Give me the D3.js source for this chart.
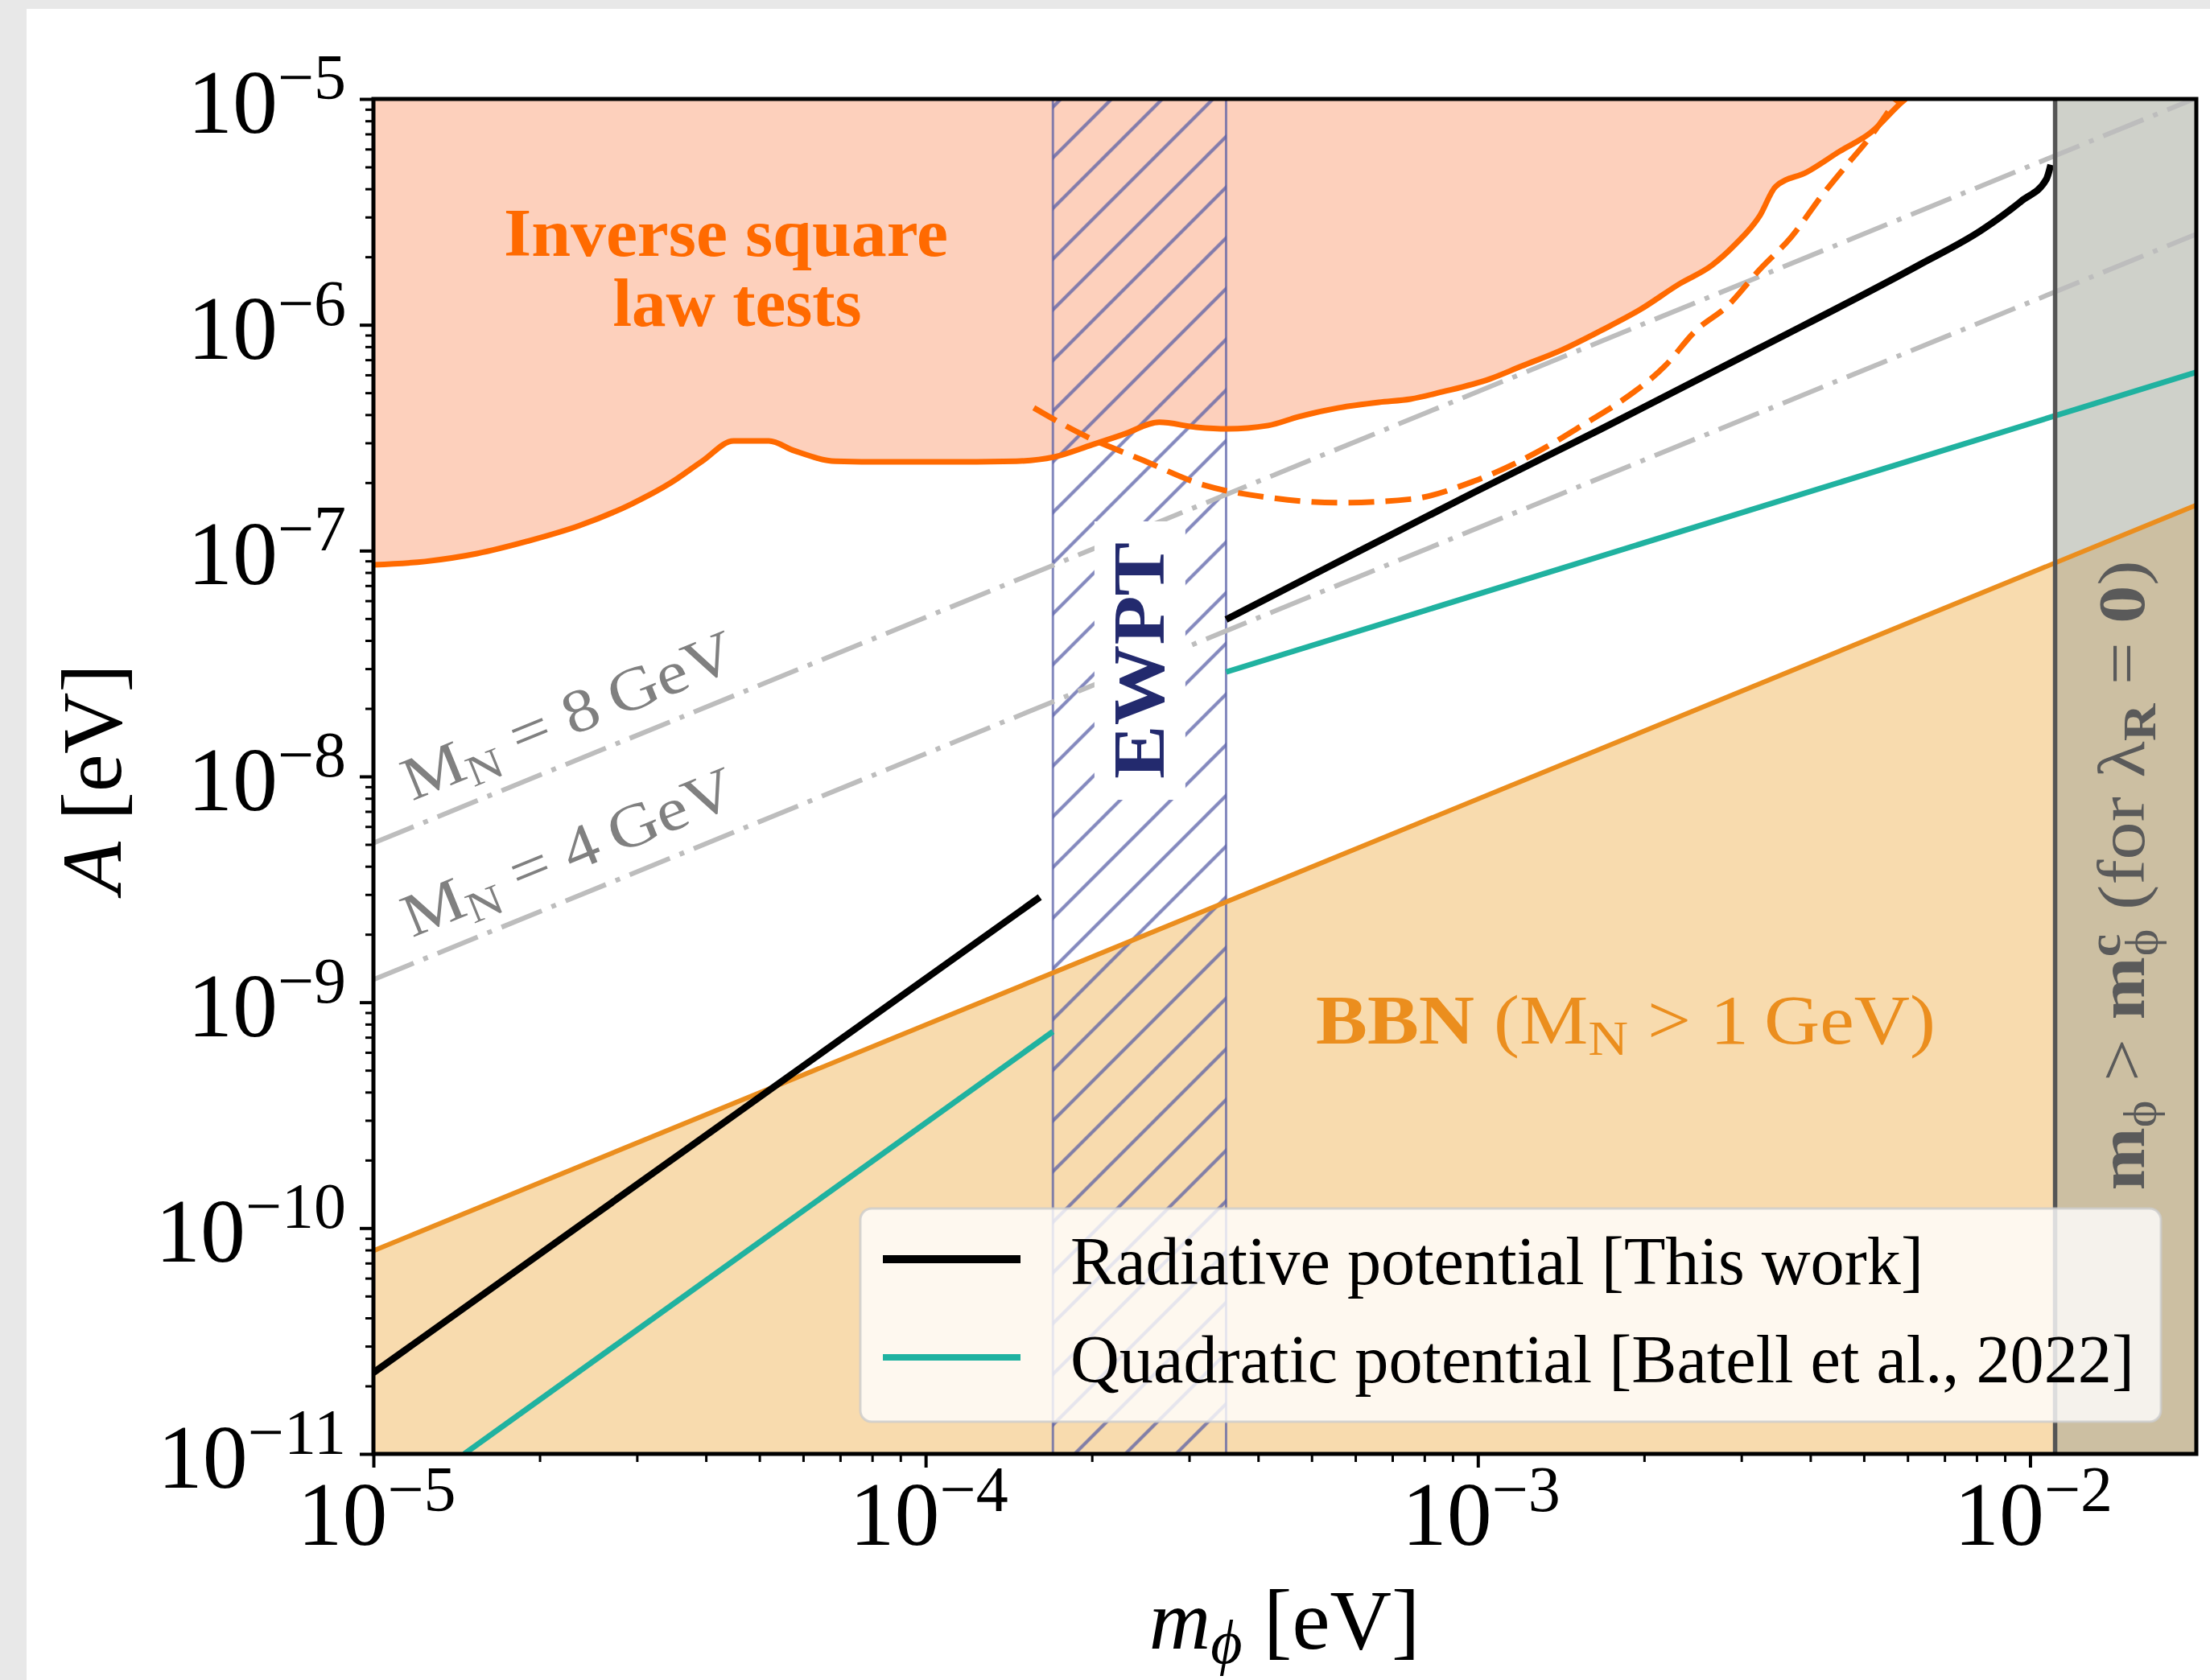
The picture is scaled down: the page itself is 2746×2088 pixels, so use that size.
<!DOCTYPE html>
<html><head><meta charset="utf-8">
<script src="https://cdn.jsdelivr.net/npm/d3@7"></script>
<style>body{margin:0;background:#e8e8e8}svg{display:block}text{font-family:"Liberation Serif","Times New Roman",serif}</style>
</head><body><svg id="c" width="2746" height="2088"></svg>
<script>
// ---------------- data (m_phi [eV], A [eV]) ----------------
const xMajor = [1e-5, 1e-4, 1e-3, 1e-2];
const xTickExp = ["\u22125", "\u22124", "\u22123", "\u22122"];
const yMajor = [1e-11, 1e-10, 1e-9, 1e-8, 1e-7, 1e-6, 1e-5];
const yTickExp = ["\u221211", "\u221210", "\u22129", "\u22128", "\u22127", "\u22126", "\u22125"];

const islBoundary = [
  [1.00e-5, 8.65e-8], [1.24e-5, 8.95e-8], [1.54e-5, 9.70e-8], [1.90e-5, 1.10e-7],
  [2.36e-5, 1.29e-7], [2.92e-5, 1.60e-7], [3.46e-5, 2.00e-7], [3.94e-5, 2.49e-7],
  [4.49e-5, 3.06e-7], [5.20e-5, 3.06e-7], [5.78e-5, 2.77e-7], [6.87e-5, 2.49e-7],
  [8.51e-5, 2.47e-7], [1.05e-4, 2.47e-7], [1.46e-4, 2.49e-7], [1.71e-4, 2.60e-7],
  [2.00e-4, 2.94e-7], [2.28e-4, 3.27e-7], [2.65e-4, 3.70e-7], [3.09e-4, 3.52e-7],
  [3.52e-4, 3.46e-7], [4.17e-4, 3.58e-7], [4.74e-4, 3.92e-7], [5.60e-4, 4.29e-7],
  [6.62e-4, 4.54e-7], [7.55e-4, 4.69e-7], [8.63e-4, 5.05e-7], [1.05e-3, 5.75e-7],
  [1.20e-3, 6.56e-7], [1.42e-3, 7.74e-7], [1.67e-3, 9.42e-7], [1.97e-3, 1.17e-6],
  [2.32e-3, 1.52e-6], [2.65e-3, 1.83e-6], [2.92e-3, 2.26e-6], [3.24e-3, 3.04e-6],
  [3.46e-3, 4.09e-6], [3.94e-3, 4.74e-6], [4.52e-3, 5.86e-6], [5.14e-3, 7.08e-6],
  [5.86e-3, 9.68e-6], [5.95e-3, 1.00e-5]
];
const islDashed = [
  [1.57e-4, 4.29e-7], [1.95e-4, 3.21e-7], [2.45e-4, 2.54e-7], [3.19e-4, 1.95e-7],
  [4.17e-4, 1.72e-7], [5.60e-4, 1.63e-7], [7.55e-4, 1.69e-7], [9.84e-4, 2.03e-7],
  [1.28e-3, 2.73e-7], [1.56e-3, 3.64e-7], [1.84e-3, 4.69e-7], [2.18e-3, 6.56e-7],
  [2.48e-3, 9.42e-7], [2.84e-3, 1.22e-6], [3.24e-3, 1.76e-6], [3.69e-3, 2.44e-6],
  [4.22e-3, 3.80e-6], [4.66e-3, 5.11e-6], [5.14e-3, 6.81e-6], [5.60e-3, 9.14e-6],
  [5.75e-3, 1.00e-5]
];
const radiativeLow = [[1.00e-5, 2.29e-11], [1.61e-4, 2.92e-9]];
const radiativeHigh = [
  [3.50e-4, 4.95e-8], [5.33e-4, 8.40e-8], [9.84e-4, 1.81e-7], [1.67e-3, 3.45e-7],
  [3.24e-3, 7.90e-7], [6.27e-3, 1.83e-6], [8.18e-3, 2.63e-6], [9.64e-3, 3.53e-6],
  [1.07e-2, 4.41e-6], [1.09e-2, 5.11e-6]
];
const quadraticLow = [[1.46e-5, 1.00e-11], [1.70e-4, 7.41e-10]];
const quadraticHigh = [[3.50e-4, 2.90e-8], [2.00e-2, 6.17e-7]];
const bbnBound = [[1.00e-5, 7.94e-11], [2.00e-2, 1.59e-7]];
const mn8Line = [[1.00e-5, 5.07e-9], [2.00e-2, 1.01e-5]];
const mn4Line = [[1.00e-5, 1.26e-9], [2.00e-2, 2.52e-6]];
const ewptBand = [1.70e-4, 3.50e-4];
const mcStart = 1.11e-2;

const legendLabels = ["Radiative potential [This work]", "Quadratic potential [Batell et al., 2022]"];
const legendColors = ["#000000", "#20b2a0"];

// ---------------- drawing ----------------
const W = 2746, H = 2088;
const X0 = 464, X1 = 2729, Y0 = 123, Y1 = 1807;
const svg = d3.select("#c");
svg.append("rect").attr("width", W).attr("height", H).attr("fill", "#e8e8e8");
svg.append("rect").attr("x", 33).attr("y", 11).attr("width", W - 33).attr("height", H - 11).attr("fill", "#fff");

const x = d3.scaleLog().domain([1e-5, 2e-2]).range([X0, X1]);
const y = d3.scaleLog().domain([1e-11, 1e-5]).range([Y1, Y0]);

const defs = svg.append("defs");
defs.append("clipPath").attr("id", "plot").append("rect")
  .attr("x", X0).attr("y", Y0).attr("width", X1 - X0).attr("height", Y1 - Y0);
const hs = 63;
const pat = defs.append("pattern").attr("id", "hatch").attr("patternUnits", "userSpaceOnUse")
  .attr("width", hs).attr("height", hs).attr("x", x(ewptBand[0])).attr("y", Y0 + 10);
pat.append("path")
  .attr("d", `M0,${hs} L${hs},0 M${-hs/2},${hs/2} L${hs/2},${-hs/2} M${hs/2},${hs*1.5} L${hs*1.5},${hs/2}`)
  .attr("stroke", "rgb(85,92,165)").attr("stroke-opacity", 0.72).attr("stroke-width", 4.2);

const line = d3.line().x(d => x(d[0])).y(d => y(d[1]));
const smooth = d3.line().x(d => x(d[0])).y(d => y(d[1])).curve(d3.curveMonotoneX);

const g = svg.append("g").attr("clip-path", "url(#plot)");
// fills
g.append("path").datum(islBoundary)
  .attr("d", d3.area().x(d => x(d[0])).y0(y(1e-5)).y1(d => y(d[1])).curve(d3.curveMonotoneX))
  .attr("fill", "#fdd0bc");
g.append("path").datum(bbnBound)
  .attr("d", d3.area().x(d => x(d[0])).y0(y(1e-11)).y1(d => y(d[1])))
  .attr("fill", "#f8dbae");
g.append("rect").attr("x", x(mcStart)).attr("y", Y0).attr("width", X1 - x(mcStart)).attr("height", Y1 - Y0)
  .attr("fill", "rgb(160,163,150)").attr("fill-opacity", 0.5);
// EWPT hatch band
g.append("rect").attr("x", x(ewptBand[0])).attr("y", Y0)
  .attr("width", x(ewptBand[1]) - x(ewptBand[0])).attr("height", Y1 - Y0).attr("fill", "url(#hatch)");
g.selectAll(".edge").data(ewptBand).join("line")
  .attr("x1", d => x(d)).attr("x2", d => x(d)).attr("y1", Y0).attr("y2", Y1)
  .attr("stroke", "rgb(85,92,165)").attr("stroke-opacity", 0.72).attr("stroke-width", 3);
// M_N dash-dot lines
[mn8Line, mn4Line].forEach(d => g.append("path").datum(d).attr("d", line)
  .attr("fill", "none").attr("stroke", "#bdbdbd").attr("stroke-width", 6)
  .attr("stroke-dasharray", "54,13,6,13"));
// BBN line
g.append("path").datum(bbnBound).attr("d", line).attr("fill", "none")
  .attr("stroke", "#eb8e1e").attr("stroke-width", 6);
// inverse square law
g.append("path").datum(islBoundary).attr("d", smooth).attr("fill", "none")
  .attr("stroke", "#ff6a00").attr("stroke-width", 7);
g.append("path").datum(islDashed).attr("d", smooth).attr("fill", "none")
  .attr("stroke", "#ff6a00").attr("stroke-width", 7).attr("stroke-dasharray", "32,14");
// quadratic
[quadraticLow, quadraticHigh].forEach(d => g.append("path").datum(d).attr("d", line)
  .attr("fill", "none").attr("stroke", legendColors[1]).attr("stroke-width", 7));
// radiative
g.append("path").datum(radiativeLow).attr("d", line).attr("fill", "none")
  .attr("stroke", "#000").attr("stroke-width", 8.5);
g.append("path").datum(radiativeHigh).attr("d", smooth).attr("fill", "none")
  .attr("stroke", "#000").attr("stroke-width", 8.5);
// m_phi^c line
g.append("line").attr("x1", x(mcStart)).attr("x2", x(mcStart)).attr("y1", Y0).attr("y2", Y1)
  .attr("stroke", "#555").attr("stroke-width", 5.5);

// EWPT label with white box
const ew = svg.append("g").attr("transform", `translate(${(x(ewptBand[0]) + x(ewptBand[1])) / 2 + 30},821) rotate(-90)`);
const ewBox = ew.append("rect").attr("fill", "#fff");
const ewT = ew.append("text").attr("text-anchor", "middle").attr("font-weight", "bold")
  .attr("font-size", 90).attr("fill", "#232a6e")
  .attr("textLength", 294).attr("lengthAdjust", "spacingAndGlyphs").text("EWPT");
const bb = ewT.node().getBBox();
ewBox.attr("x", bb.x - 26).attr("y", bb.y - 6).attr("width", bb.width + 52).attr("height", bb.height + 14);

// M_N labels along the lines
const ang = Math.atan2(y(mn8Line[1][1]) - y(mn8Line[0][1]), x(mn8Line[1][0]) - x(mn8Line[0][0])) * 180 / Math.PI;
[[mn8Line, "8"], [mn4Line, "4"]].forEach(([ln, v]) => {
  const m0 = 1.22e-5;
  const a0 = ln[0][1] * Math.pow(m0 / ln[0][0], Math.log10(ln[1][1] / ln[0][1]) / Math.log10(ln[1][0] / ln[0][0]));
  const t = svg.append("text").attr("transform", `translate(${x(m0)},${y(a0)}) rotate(${ang})`)
    .attr("y", -30).attr("fill", "#808080").attr("font-size", 76)
    .attr("textLength", 440).attr("lengthAdjust", "spacingAndGlyphs");
  t.append("tspan").text("M");
  t.append("tspan").attr("font-size", 54).attr("dy", 13).text("N");
  t.append("tspan").attr("dy", -13).text(" = " + v + "\u2009GeV");
});

// region labels
const isl = svg.append("text").attr("fill", "#ff6a00").attr("font-weight", "bold").attr("font-size", 85)
  .attr("text-anchor", "middle");
isl.append("tspan").attr("x", 902).attr("y", 318).attr("textLength", 552).attr("lengthAdjust", "spacingAndGlyphs").text("Inverse square");
isl.append("tspan").attr("x", 916).attr("y", 405).text("law tests");

const bbn = svg.append("text").attr("x", 1635).attr("y", 1297).attr("fill", "#eb8e1e").attr("font-size", 86)
  .attr("textLength", 770).attr("lengthAdjust", "spacingAndGlyphs");
bbn.append("tspan").attr("font-weight", "bold").text("BBN ");
bbn.append("tspan").text("(M");
bbn.append("tspan").attr("font-size", 62).attr("dy", 14).text("N");
bbn.append("tspan").attr("dy", -14).text(" > 1\u2009GeV)");

const mc = svg.append("text").attr("transform", "translate(2664,1088) rotate(-90)")
  .attr("text-anchor", "middle").attr("fill", "#5a5a5a").attr("font-size", 82)
  .attr("textLength", 783).attr("lengthAdjust", "spacingAndGlyphs");
mc.append("tspan").attr("font-weight", "bold").text("m");
mc.append("tspan").attr("font-size", 56).attr("dy", 14).text("\u03d5");
mc.append("tspan").attr("dy", -14).text(" > ");
mc.append("tspan").attr("font-weight", "bold").text("m");
mc.append("tspan").attr("font-weight", "bold").attr("font-size", 56).attr("dy", -30).text("c");
mc.append("tspan").attr("font-size", 56).attr("dx", -24).attr("dy", 46).text("\u03d5");
mc.append("tspan").attr("dy", -16).text(" (for \u03bb");
mc.append("tspan").attr("font-weight", "bold").attr("font-size", 56).attr("dy", 14).text("R");
mc.append("tspan").attr("dy", -14).text(" = ");
mc.append("tspan").attr("font-weight", "bold").text("0");
mc.append("tspan").text(")");

// axes ticks
function minors(dom) {
  const out = [];
  for (let e = -12; e <= 0; e++) for (let k = 2; k <= 9; k++) {
    const v = k * Math.pow(10, e);
    if (v > dom[0] * 1.0001 && v < dom[1] * 0.9999) out.push(v);
  }
  return out;
}
const axB = svg.append("g").attr("transform", `translate(0,${Y1})`);
axB.call(d3.axisBottom(x).tickValues(xMajor).tickSize(17).tickFormat(""));
axB.selectAll(".tick line").attr("stroke-width", 4);
const axBm = svg.append("g").attr("transform", `translate(0,${Y1})`);
axBm.call(d3.axisBottom(x).tickValues(minors(x.domain())).tickSize(10).tickFormat(""));
axBm.selectAll(".tick line").attr("stroke-width", 3);
const axL = svg.append("g").attr("transform", `translate(${X0},0)`);
axL.call(d3.axisLeft(y).tickValues(yMajor).tickSize(17).tickFormat(""));
axL.selectAll(".tick line").attr("stroke-width", 4);
const axLm = svg.append("g").attr("transform", `translate(${X0},0)`);
axLm.call(d3.axisLeft(y).tickValues(minors(y.domain())).tickSize(10).tickFormat(""));
axLm.selectAll(".tick line").attr("stroke-width", 3);
svg.selectAll(".domain").remove();

// tick labels
xMajor.forEach((v, i) => {
  const t = svg.append("text").attr("x", x(v) + 4).attr("y", 1920).attr("text-anchor", "middle").attr("font-size", 112);
  t.append("tspan").text("10");
  t.append("tspan").attr("font-size", 80).attr("dy", -42).text(xTickExp[i]);
});
yMajor.forEach((v, i) => {
  const t = svg.append("text").attr("x", 430).attr("y", y(v) + 42).attr("text-anchor", "end").attr("font-size", 112);
  t.append("tspan").text("10");
  t.append("tspan").attr("font-size", 80).attr("dy", -42).text(yTickExp[i]);
});

// axis titles
const xl = svg.append("text").attr("x", 1596).attr("y", 2049).attr("text-anchor", "middle").attr("font-size", 106);
xl.append("tspan").attr("font-style", "italic").text("m");
xl.append("tspan").attr("font-style", "italic").attr("font-size", 76).attr("dy", 18).text("\u03d5");
xl.append("tspan").attr("dy", -18).text(" [eV]");
const yl = svg.append("text").attr("transform", "translate(150,968) rotate(-90)").attr("text-anchor", "middle").attr("font-size", 106);
yl.append("tspan").attr("font-style", "italic").text("A");
yl.append("tspan").text(" [eV]");

// legend
const lg = svg.append("g");
lg.append("rect").attr("x", 1069).attr("y", 1502).attr("width", 1616).attr("height", 265).attr("rx", 14)
  .attr("fill", "#fff").attr("fill-opacity", 0.8).attr("stroke", "#cccccc").attr("stroke-opacity", 0.8).attr("stroke-width", 3);
const legendWidths = [1060, 1322];
legendLabels.forEach((lab, i) => {
  const yy = 1565 + i * 122;
  lg.append("line").attr("x1", 1097).attr("x2", 1268).attr("y1", yy).attr("y2", yy)
    .attr("stroke", legendColors[i]).attr("stroke-width", i === 0 ? 10 : 8);
  lg.append("text").attr("x", 1330).attr("y", yy + 31).attr("font-size", 84)
    .attr("textLength", legendWidths[i]).attr("lengthAdjust", "spacingAndGlyphs").text(lab);
});

// spines
svg.append("rect").attr("x", X0).attr("y", Y0).attr("width", X1 - X0).attr("height", Y1 - Y0)
  .attr("fill", "none").attr("stroke", "#000").attr("stroke-width", 5);
</script></body></html>
